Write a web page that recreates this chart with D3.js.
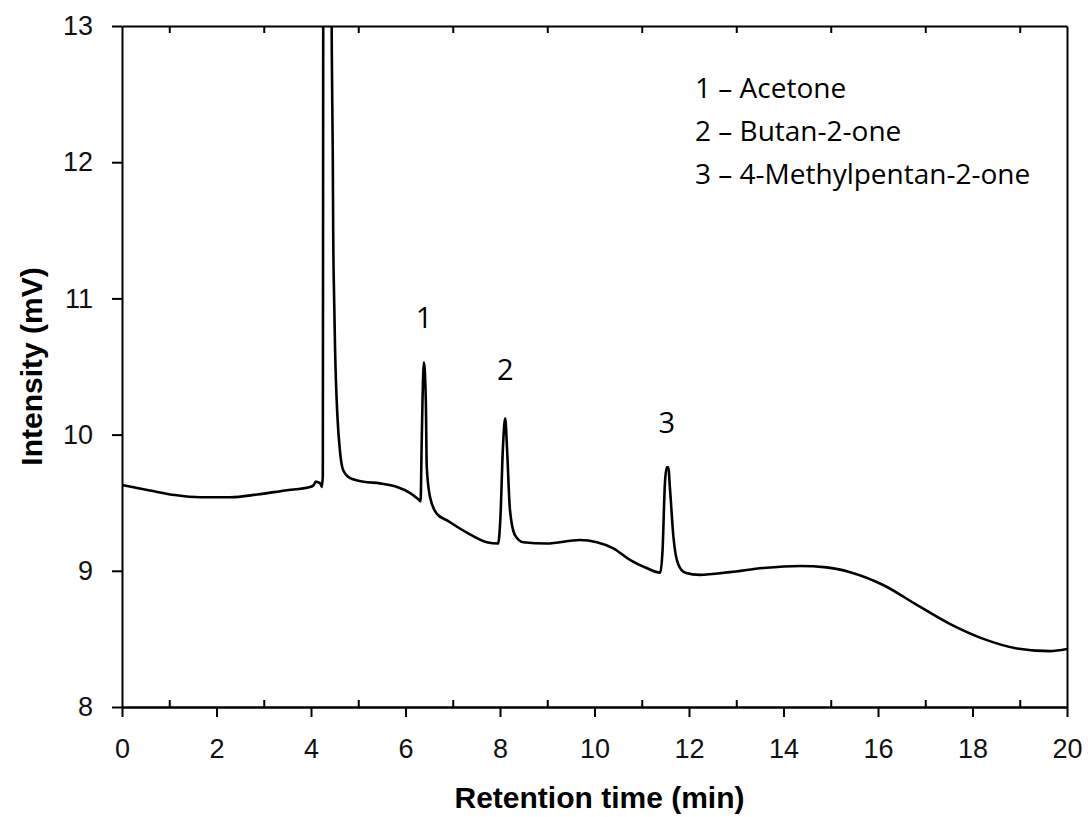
<!DOCTYPE html>
<html>
<head>
<meta charset="utf-8">
<script src="https://cdn.jsdelivr.net/npm/d3@7"></script>
<style>
  body { margin: 0; background: #fff; }
  .axis path, .axis line { stroke: #000; stroke-width: 2; }
</style>
</head>
<body>
<div id="chart"></div>
<script>
// retention time (min) and detector signal (mV)
var time = [0.00, 0.59, 1.12, 1.65, 2.29, 2.86, 3.45, 3.98, 4.06, 4.10, 4.15, 4.19, 4.23,
  4.25, 4.255, 4.26, 4.33, 4.43, 4.44, 4.46, 4.47, 4.49, 4.51, 4.56, 4.61, 4.68, 4.83,
  5.11, 5.46, 5.81, 6.10, 6.27, 6.32, 6.34, 6.36, 6.39, 6.43, 6.45, 6.52, 6.66, 6.88,
  7.30, 7.72, 7.96, 8.01, 8.06, 8.11, 8.15, 8.21, 8.32, 8.49, 8.99, 9.69, 10.05, 10.40,
  10.75, 11.10, 11.39, 11.44, 11.49, 11.53, 11.56, 11.60, 11.67, 11.77, 11.92, 12.23,
  12.87, 13.57, 14.35, 14.91, 15.41, 16.11, 16.82, 17.52, 18.23, 18.94, 19.64, 20.00];
var intensity = [9.63, 9.59, 9.556, 9.54, 9.54, 9.56, 9.59, 9.615, 9.63, 9.655, 9.65, 9.645, 9.615,
  9.70, 11.5, 13.5, 24, 13.5, 12.82, 12.09, 11.48, 10.99, 10.62, 10.13, 9.89, 9.74, 9.68,
  9.654, 9.642, 9.617, 9.57, 9.525, 9.51, 9.89, 10.25, 10.53, 10.25, 9.76, 9.54, 9.42, 9.37,
  9.28, 9.21, 9.20, 9.40, 9.89, 10.12, 9.89, 9.45, 9.26, 9.21, 9.20, 9.226, 9.21, 9.165,
  9.08, 9.02, 8.986, 9.15, 9.64, 9.76, 9.76, 9.59, 9.25, 9.05, 8.986, 8.97,
  8.99, 9.02, 9.035, 9.025, 8.99, 8.896, 8.75, 8.61, 8.50, 8.43, 8.41, 8.426];

var peakIds = ["1", "2", "3"];
var peakTimes = [6.39, 8.11, 11.53];
var peakLabelY = [10.78, 10.40, 10.01];
var legendLines = ["1 \u2013 Acetone", "2 \u2013 Butan-2-one", "3 \u2013 4-Methylpentan-2-one"];

var xMajor = [0, 2, 4, 6, 8, 10, 12, 14, 16, 18, 20];
var xMinor = [1, 3, 5, 7, 9, 11, 13, 15, 17, 19];
var yTicks = [8, 9, 10, 11, 12, 13];

var width = 1088, height = 817;
var margin = {top: 26, right: 21, bottom: 110, left: 122};
var w = width - margin.left - margin.right;
var h = height - margin.top - margin.bottom;

var svg = d3.select("#chart").append("svg")
    .attr("width", width)
    .attr("height", height);

var g = svg.append("g")
    .attr("transform", "translate(" + margin.left + "," + margin.top + ")");

var x = d3.scaleLinear().domain([0, 20]).range([0, w]);
var y = d3.scaleLinear().domain([8, 13]).range([h, 0]);

svg.append("defs").append("clipPath").attr("id", "clip")
    .append("rect").attr("width", w).attr("height", h);

// the trace
var points = time.map(function (t, i) { return [t, intensity[i]]; });
var line = d3.line()
    .x(function (d) { return x(d[0]); })
    .y(function (d) { return y(d[1]); })
    .curve(d3.curveMonotoneX);

g.append("path")
    .datum(points)
    .attr("clip-path", "url(#clip)")
    .attr("fill", "none")
    .attr("stroke", "#000")
    .attr("stroke-width", 2.6)
    .attr("stroke-linejoin", "round")
    .attr("d", line);

// axes
var xAxis = g.append("g").attr("class", "axis")
    .attr("transform", "translate(0," + h + ")")
    .call(d3.axisBottom(x).tickValues(xMajor).tickFormat(d3.format("d"))
        .tickSize(10).tickPadding(22).tickSizeOuter(0));

g.append("g").attr("class", "axis")
    .attr("transform", "translate(0," + h + ")")
    .call(d3.axisBottom(x).tickValues(xMinor).tickSize(-7).tickFormat("").tickSizeOuter(0));

g.append("g").attr("class", "axis")
    .call(d3.axisTop(x).tickValues(xMinor).tickSize(-7).tickFormat("").tickSizeOuter(0));

var yAxis = g.append("g").attr("class", "axis")
    .call(d3.axisLeft(y).tickValues(yTicks).tickFormat(d3.format("d"))
        .tickSize(10).tickPadding(19).tickSizeOuter(0));

g.append("g").attr("class", "axis")
    .attr("transform", "translate(" + w + ",0)")
    .call(d3.axisRight(y).tickValues([]).tickSizeOuter(0));

[xAxis, yAxis].forEach(function (a) {
    a.selectAll("text")
        .style("font-family", "Liberation Sans, Arial, sans-serif")
        .style("font-size", "27px")
        .style("fill", "#111");
});

// axis titles
svg.append("text")
    .attr("x", margin.left + w / 2 + 5)
    .attr("y", 808)
    .attr("text-anchor", "middle")
    .style("font-family", "Liberation Sans, Arial, sans-serif")
    .style("font-weight", "bold")
    .style("font-size", "30px")
    .text("Retention time (min)");

svg.append("text")
    .attr("transform", "translate(42," + (margin.top + h / 2) + ") rotate(-90)")
    .attr("text-anchor", "middle")
    .style("font-family", "Liberation Sans, Arial, sans-serif")
    .style("font-weight", "bold")
    .style("font-size", "30px")
    .text("Intensity (mV)");

// peak numbers
g.selectAll(".peak")
    .data(peakIds)
    .enter()
    .append("text")
    .attr("class", "peak")
    .attr("x", function (d, i) { return x(peakTimes[i]); })
    .attr("y", function (d, i) { return y(peakLabelY[i]); })
    .attr("text-anchor", "middle")
    .style("font-family", "Open Sans, sans-serif")
    .style("font-size", "29px")
    .text(function (d) { return d; });

// legend
svg.selectAll(".legend")
    .data(legendLines)
    .enter()
    .append("text")
    .attr("class", "legend")
    .attr("x", 695)
    .attr("y", function (d, i) { return 98 + i * 43; })
    .style("font-family", "Open Sans, sans-serif")
    .style("font-size", "28px")
    .text(function (d) { return d; });
</script>
</body>
</html>
